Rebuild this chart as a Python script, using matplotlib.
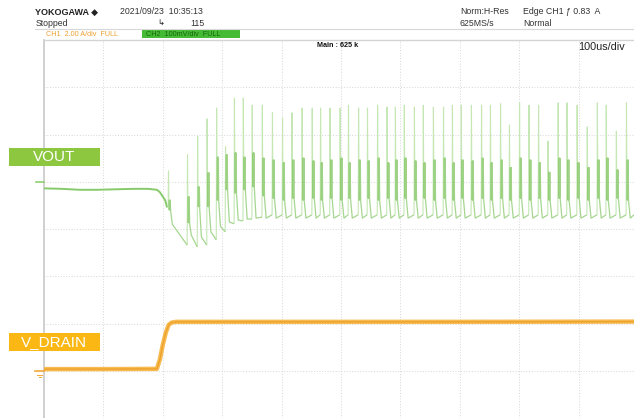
import matplotlib
matplotlib.use("Agg")
import matplotlib.pyplot as plt
from matplotlib.patches import Rectangle
from matplotlib.lines import Line2D
from matplotlib.collections import LineCollection
import numpy as np

# ---------------- data ----------------
# time axis in microseconds, 100 us/div
# VOUT in mV relative to its ground marker (100 mV/div)
vout_flat_t = [0, 30, 60, 90, 120, 150, 175, 190, 195, 204, 207]
vout_flat_v = [-14, -15, -17, -17, -16, -15, -15, -17, -22, -39, -53]

spike_t = [209, 241, 258, 274, 290, 305, 320, 335, 350, 367, 384, 401, 417, 434,
           451, 465, 481, 498, 512, 529, 544, 561, 577, 591, 606, 623, 638, 655,
           672, 687, 702, 719, 736, 751, 768, 783, 800, 816, 832, 848, 865, 880,
           897, 914, 931, 946, 963, 980]
spike_peak = [23, 57, 97, 133, 156, 74, 177, 177, 162, 162, 146, 135, 146, 156,
              156, 156, 156, 156, 162, 156, 156, 162, 158, 158, 162, 158, 162, 158,
              158, 162, 162, 162, 162, 162, 165, 120, 167, 162, 162, 86, 167, 167,
              162, 116, 167, 162, 107, 167]
spike_pre = [-53, -134, -138, -134, -123, -106, -89, -83, -79, -75, -70, -70, -70, -70,
             -70, -70, -70, -70, -70, -70, -70, -70, -70, -70, -70, -70, -70, -70,
             -70, -70, -70, -70, -70, -70, -70, -70, -70, -70, -70, -70, -70, -70,
             -70, -70, -70, -70, -70, -70]
band_hi = [-39, -32, -11, 19, 52, 57, 61, 52, 61, 50, 46, 40, 46, 50,
           44, 40, 46, 50, 40, 46, 44, 50, 40, 46, 50, 44, 40, 46,
           50, 40, 46, 44, 50, 40, 46, 30, 50, 46, 40, 20, 50, 46,
           40, 30, 46, 50, 25, 46]
band_lo = [-60, -87, -53, -53, -39, -17, -24, -17, -11, -30, -35, -39, -35, -39,
           -35, -39, -35, -39, -35, -39, -35, -39, -35, -39, -35, -39, -35, -39,
           -35, -39, -35, -39, -35, -39, -35, -39, -35, -39, -35, -39, -35, -39,
           -35, -39, -35, -39, -35, -39]
spike_valley = [-90, -113, -117, -106, -94, -85, -81, -79, -77, -77, -77, -77, -77, -77,
                -77, -77, -77, -77, -77, -77, -77, -77, -77, -77, -77, -77, -77, -77,
                -77, -77, -77, -77, -77, -77, -77, -77, -77, -77, -77, -77, -77, -77,
                -77, -77, -77, -77, -77, -77]

# V_DRAIN (CH1, 2.00 A/div) in A relative to its ground marker
drain_t = [0, 100, 190, 195, 200, 205, 210, 215, 222, 400, 700, 993]
drain_a = [0.07, 0.07, 0.08, 0.47, 1.10, 1.61, 1.95, 2.04, 2.07, 2.07, 2.07, 2.08]

W, H = 634, 418
fig = plt.figure(figsize=(W / 100, H / 100), dpi=100)
fig.patch.set_facecolor("white")

def fx(px):
    return px / W

def fy(py):
    return 1 - py / H

# plot area: left edge at px 44, top at px 40, 59.4 px/div horizontally, 47.25 px/div vertically
x_right_us = (W - 44) / 59.4 * 100
ax = fig.add_axes([fx(44), 0, (W - 44) / W, (H - 40) / H])
ax.set_xlim(0, x_right_us)
ax.set_ylim(-4, 4)
for s in ax.spines.values():
    s.set_visible(False)
ax.spines["left"].set_visible(True)
ax.spines["left"].set_color("#c8c8c8")
ax.spines["left"].set_linewidth(1.2)
ax.spines["top"].set_visible(True)
ax.spines["top"].set_color("#d4d4d4")
ax.spines["top"].set_linewidth(1.0)
ax.set_xticks(np.arange(100, 1000, 100))
ax.set_yticks(np.arange(-3, 4, 1))
ax.tick_params(length=0, labelbottom=False, labelleft=False)
ax.grid(True, color="#d6d6d6", linestyle=(0, (1, 1.8)), linewidth=0.7)
ax.set_axisbelow(True)

def vy(mv):
    return 1 + np.asarray(mv, dtype=float) / 100.0

def dy(a):
    return -3 + np.asarray(a, dtype=float) / 2.0

# ---------- VOUT trace ----------
ax.plot(vout_flat_t, vy(vout_flat_v), color="#86ca6b", lw=1.4, solid_capstyle="round", zorder=3)

spike_segs, band_segs, tail_segs = [], [], []
n = len(spike_t)
for i in range(n):
    t = spike_t[i]
    spike_segs.append([(t, vy(spike_pre[i])), (t + 0.6, vy(spike_peak[i])), (t + 1.4, vy(band_lo[i]))])
    band_segs.append([(t + 1.4, vy(band_lo[i])), (t + 2.1, vy(band_hi[i])), (t + 2.8, vy(band_lo[i])),
                      (t + 3.4, vy(band_hi[i])), (t + 4.0, vy(band_lo[i]))])
    if i + 1 < n:
        nxt = (spike_t[i + 1], vy(spike_pre[i + 1]))
    else:
        nxt = (x_right_us, vy(-70))
    tail_segs.append([(t + 4.0, vy(band_lo[i])), (t + 7.0, vy(spike_valley[i])), nxt])

ax.add_collection(LineCollection(spike_segs, colors="#c4e7b4", linewidths=0.8, zorder=3))
ax.add_collection(LineCollection(band_segs, colors="#88c96a", linewidths=1.0, alpha=0.8, zorder=4))
ax.add_collection(LineCollection(tail_segs, colors="#a6d690", linewidths=0.9, zorder=4))

# ---------- V_DRAIN trace ----------
ax.plot(drain_t, dy(drain_a), color="#f7bb52", lw=3.2, solid_joinstyle="round", zorder=3)
ax.plot(drain_t, dy(drain_a), color="#eb9c22", lw=1.0, alpha=0.8, zorder=4)

# ---------- ground markers ----------
fig.add_artist(Line2D([fx(36), fx(44)], [fy(182), fy(182)], color="#8fd070", lw=1.2))
fig.add_artist(Line2D([fx(35), fx(44)], [fy(371), fy(371)], color="#f2a838", lw=1.2))
fig.add_artist(Line2D([fx(37), fx(42)], [fy(375), fy(375)], color="#f2a838", lw=0.7))
fig.add_artist(Line2D([fx(38.5), fx(40.5)], [fy(377), fy(377)], color="#f2a838", lw=0.7))

# ---------- channel label boxes ----------
fig.add_artist(Rectangle((fx(9), fy(166)), 91 / W, 18 / H, facecolor="#8dc63f", edgecolor="none"))
fig.text(fx(54), fy(157), "VOUT", color="white", fontsize=11, family="Liberation Sans",
         ha="center", va="center")
fig.add_artist(Rectangle((fx(9), fy(351)), 91 / W, 18 / H, facecolor="#fbb714", edgecolor="none"))
fig.text(fx(54), fy(342), "V_DRAIN", color="white", fontsize=11, family="Liberation Sans",
         ha="center", va="center")

# ---------- header ----------
hdr = dict(fontsize=6.3, color="#333333", family=["Liberation Sans", "DejaVu Sans"], va="center")
fig.text(fx(35), fy(12), "YOKOGAWA \u25c6", fontsize=6.5, color="#222222", weight="bold",
         family=["Liberation Sans", "DejaVu Sans"], va="center")
fig.text(fx(120), fy(12), "2021/09/23  10:35:13", **hdr)
fig.text(fx(36), fy(23), "Stopped", **hdr)
fig.text(fx(157), fy(23), "\u21b3", fontsize=6, color="#222222", family="DejaVu Sans", va="center")
fig.text(fx(190), fy(23), "115", **hdr)
fig.text(fx(460), fy(12), "Norm:H-Res", **hdr)
fig.text(fx(460), fy(23), "625MS/s", **hdr)
fig.text(fx(523), fy(12), "Edge CH1 \u0192 0.83  A", **hdr)
fig.text(fx(523), fy(23), "Normal", **hdr)

fig.add_artist(Line2D([fx(35), 1], [fy(28.5), fy(28.5)], color="#d8d8d8", lw=0.8))
fig.text(fx(46), fy(34), "CH1  2.00 A/div  FULL", fontsize=5.2, color="#f0a030",
         family="Liberation Sans", va="center")
fig.add_artist(Rectangle((fx(142), fy(38)), 98 / W, 8.5 / H, facecolor="#45bb35", edgecolor="none"))
fig.text(fx(146), fy(34), "CH2  100mV/div  FULL", fontsize=5.2, color="#17650f",
         family="Liberation Sans", va="center")

fig.text(fx(317), fy(45.5), "Main : 625 k", fontsize=5.2, color="#111111", weight="bold",
         family="Liberation Sans", va="center")
fig.text(fx(578), fy(46.5), "100us/div", fontsize=7.8, color="#222222",
         family="Liberation Sans", va="center")

fig.savefig("out.png", dpi=100, facecolor="white")
